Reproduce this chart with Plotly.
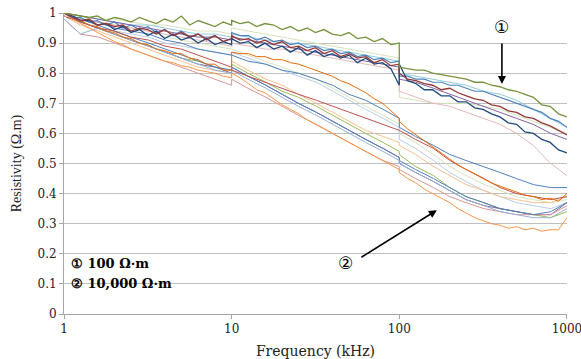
import plotly.graph_objects as go

# ---------------- frequency grids (kHz) ----------------
FREQ_FINE = [1, 1.12, 1.26, 1.41, 1.58, 1.78, 2, 2.24, 2.51, 2.82, 3.16, 3.55, 3.98, 4.47, 5.01, 5.62, 6.31, 7.08, 7.94, 8.91, 9.99,
             10, 11.2, 12.6, 14.1, 15.8, 17.8, 20, 22.4, 25.1, 28.2, 31.6, 35.5, 39.8, 44.7, 50.1, 56.2, 63.1, 70.8, 79.4, 89.1, 99.9,
             100, 112, 126, 141, 158, 178, 200, 224, 251, 282, 316, 355, 398, 447, 501, 562, 631, 708, 794, 891, 1000]
FREQ_COARSE = [1, 1.25, 1.6, 2, 2.5, 3.2, 4, 5, 6.3, 8, 9.99,
               10, 12.5, 16, 20, 25, 32, 40, 50, 63, 80, 99.9,
               100, 125, 160, 200, 250, 320, 400, 500, 630, 800, 1000]

# ---------------- 10,000 ohm-m group (coarse) ----------------
g2_red = [0.99, 0.97, 0.95, 0.94, 0.92, 0.91, 0.89, 0.88, 0.86, 0.84, 0.82,
          0.81, 0.79, 0.77, 0.75, 0.73, 0.71, 0.69, 0.67, 0.65, 0.63, 0.61,
          0.61, 0.58, 0.55, 0.51, 0.48, 0.45, 0.42, 0.40, 0.39, 0.38, 0.39]
g2_blue = [1.00, 0.98, 0.97, 0.95, 0.94, 0.93, 0.91, 0.90, 0.88, 0.87, 0.86,
           0.86, 0.84, 0.83, 0.81, 0.80, 0.78, 0.76, 0.73, 0.71, 0.68, 0.65,
           0.62, 0.59, 0.56, 0.53, 0.51, 0.49, 0.47, 0.45, 0.43, 0.42, 0.42]
g2_lightblue = [0.98, 0.93, 0.95, 0.93, 0.91, 0.89, 0.87, 0.85, 0.83, 0.81, 0.80,
                0.81, 0.78, 0.75, 0.72, 0.69, 0.66, 0.63, 0.60, 0.57, 0.54, 0.51,
                0.50, 0.47, 0.44, 0.41, 0.38, 0.36, 0.34, 0.33, 0.32, 0.32, 0.35]
g2_steel = [1.00, 0.98, 0.96, 0.94, 0.92, 0.90, 0.88, 0.86, 0.84, 0.82, 0.81,
            0.82, 0.79, 0.76, 0.73, 0.70, 0.67, 0.64, 0.61, 0.58, 0.55, 0.52,
            0.51, 0.48, 0.45, 0.42, 0.39, 0.37, 0.35, 0.34, 0.33, 0.34, 0.37]
g2_lightred = [0.98, 0.93, 0.92, 0.90, 0.88, 0.86, 0.84, 0.82, 0.80, 0.78, 0.76,
               0.78, 0.75, 0.72, 0.69, 0.66, 0.63, 0.60, 0.57, 0.54, 0.51, 0.49,
               0.48, 0.45, 0.42, 0.39, 0.37, 0.35, 0.34, 0.33, 0.33, 0.33, 0.36]
g2_purple = [0.99, 0.97, 0.95, 0.93, 0.91, 0.89, 0.87, 0.85, 0.83, 0.82, 0.80,
             0.82, 0.79, 0.76, 0.73, 0.70, 0.67, 0.64, 0.61, 0.58, 0.55, 0.52,
             0.50, 0.47, 0.44, 0.41, 0.38, 0.36, 0.35, 0.34, 0.33, 0.33, 0.37]
g2_green = [0.99, 0.97, 0.95, 0.93, 0.91, 0.89, 0.87, 0.85, 0.84, 0.82, 0.81,
            0.83, 0.80, 0.77, 0.74, 0.72, 0.69, 0.66, 0.63, 0.60, 0.57, 0.54,
            0.53, 0.49, 0.46, 0.42, 0.39, 0.37, 0.35, 0.34, 0.33, 0.32, 0.34]
g2_peach = [0.99, 0.96, 0.94, 0.92, 0.90, 0.88, 0.86, 0.84, 0.82, 0.81, 0.80,
            0.84, 0.81, 0.78, 0.76, 0.73, 0.70, 0.67, 0.64, 0.61, 0.59, 0.57,
            0.56, 0.53, 0.49, 0.46, 0.43, 0.41, 0.39, 0.38, 0.37, 0.37, 0.39]
g2_paleblue = [1.00, 0.97, 0.95, 0.94, 0.93, 0.92, 0.90, 0.89, 0.88, 0.87, 0.86,
               0.87, 0.85, 0.83, 0.81, 0.79, 0.77, 0.74, 0.71, 0.68, 0.65, 0.62,
               0.58, 0.55, 0.51, 0.47, 0.44, 0.41, 0.39, 0.37, 0.36, 0.35, 0.37]
g2_palegreen = [1.00, 0.98, 0.97, 0.96, 0.95, 0.94, 0.92, 0.91, 0.90, 0.89, 0.88,
                0.88, 0.86, 0.84, 0.82, 0.80, 0.78, 0.75, 0.72, 0.69, 0.66, 0.63,
                0.60, 0.57, 0.53, 0.49, 0.46, 0.43, 0.41, 0.39, 0.38, 0.37, 0.38]

# ---------------- 10,000 ohm-m group (fine, noisy) ----------------
g2_orange_up = [1.00, 0.985, 0.975, 0.96, 0.955, 0.94, 0.935, 0.92, 0.915, 0.90, 0.895, 0.88, 0.875, 0.865, 0.865, 0.85, 0.845, 0.83, 0.83, 0.81, 0.81,
                0.87, 0.865, 0.865, 0.855, 0.855, 0.845, 0.845, 0.835, 0.83, 0.82, 0.81, 0.80, 0.79, 0.775, 0.765, 0.75, 0.735, 0.715, 0.70, 0.675, 0.65,
                0.64, 0.615, 0.595, 0.575, 0.555, 0.535, 0.515, 0.495, 0.48, 0.465, 0.45, 0.435, 0.425, 0.415, 0.405, 0.395, 0.39, 0.38, 0.385, 0.375, 0.40]
g2_orange_low = [1.00, 0.98, 0.965, 0.95, 0.935, 0.92, 0.905, 0.895, 0.88, 0.87, 0.86, 0.85, 0.84, 0.835, 0.825, 0.82, 0.81, 0.805, 0.80, 0.79, 0.785,
                 0.80, 0.785, 0.765, 0.745, 0.735, 0.715, 0.695, 0.68, 0.665, 0.645, 0.63, 0.615, 0.60, 0.585, 0.57, 0.555, 0.54, 0.525, 0.51, 0.495, 0.48,
                 0.47, 0.45, 0.435, 0.415, 0.40, 0.385, 0.37, 0.35, 0.335, 0.32, 0.31, 0.30, 0.295, 0.285, 0.29, 0.28, 0.285, 0.275, 0.28, 0.28, 0.32]

# ---------------- 100 ohm-m group (coarse) ----------------
g1_cyan = [1.00, 0.99, 0.98, 0.97, 0.96, 0.96, 0.95, 0.94, 0.93, 0.93, 0.92,
           0.93, 0.92, 0.91, 0.90, 0.90, 0.89, 0.88, 0.87, 0.86, 0.85, 0.84,
           0.80, 0.79, 0.78, 0.77, 0.76, 0.74, 0.73, 0.71, 0.68, 0.65, 0.62]
g1_pink = [0.99, 0.98, 0.97, 0.96, 0.95, 0.94, 0.93, 0.92, 0.91, 0.90, 0.89,
           0.90, 0.89, 0.88, 0.88, 0.87, 0.86, 0.85, 0.84, 0.83, 0.82, 0.81,
           0.74, 0.72, 0.70, 0.69, 0.67, 0.65, 0.63, 0.60, 0.56, 0.50, 0.46]
g1_palegreen = [1.00, 0.99, 0.98, 0.98, 0.97, 0.96, 0.96, 0.95, 0.94, 0.94, 0.93,
                0.95, 0.94, 0.93, 0.92, 0.91, 0.90, 0.89, 0.88, 0.87, 0.86, 0.85,
                0.72, 0.71, 0.70, 0.70, 0.70, 0.69, 0.68, 0.66, 0.64, 0.62, 0.60]
g1_purple = [1.00, 0.99, 0.98, 0.97, 0.96, 0.95, 0.94, 0.93, 0.92, 0.92, 0.91,
             0.92, 0.91, 0.90, 0.89, 0.88, 0.87, 0.86, 0.85, 0.84, 0.83, 0.82,
             0.78, 0.77, 0.75, 0.73, 0.71, 0.69, 0.67, 0.65, 0.63, 0.60, 0.58]

# ---------------- 100 ohm-m group (fine, noisy) ----------------
g1_blue = [1.00, 0.985, 0.985, 0.97, 0.975, 0.96, 0.97, 0.95, 0.96, 0.945, 0.955, 0.935, 0.945, 0.925, 0.94, 0.92, 0.93, 0.915, 0.925, 0.905, 0.915,
           0.935, 0.925, 0.925, 0.91, 0.92, 0.905, 0.91, 0.895, 0.90, 0.885, 0.89, 0.875, 0.88, 0.865, 0.87, 0.855, 0.86, 0.845, 0.85, 0.835, 0.84,
           0.79, 0.79, 0.78, 0.78, 0.77, 0.77, 0.76, 0.76, 0.75, 0.74, 0.74, 0.73, 0.72, 0.71, 0.70, 0.69, 0.68, 0.67, 0.65, 0.64, 0.62]
g1_navy = [1.00, 0.99, 0.975, 0.975, 0.96, 0.965, 0.945, 0.955, 0.935, 0.945, 0.925, 0.94, 0.915, 0.93, 0.91, 0.92, 0.90, 0.915, 0.895, 0.905, 0.895,
           0.915, 0.90, 0.905, 0.885, 0.90, 0.88, 0.89, 0.87, 0.885, 0.86, 0.875, 0.855, 0.865, 0.85, 0.86, 0.835, 0.85, 0.83, 0.835, 0.815, 0.76,
           0.83, 0.775, 0.765, 0.745, 0.745, 0.725, 0.725, 0.705, 0.705, 0.685, 0.68, 0.665, 0.655, 0.635, 0.63, 0.605, 0.60, 0.58, 0.57, 0.545, 0.535]
g1_darkred = [1.00, 0.985, 0.975, 0.98, 0.96, 0.965, 0.955, 0.96, 0.94, 0.95, 0.945, 0.93, 0.945, 0.925, 0.935, 0.92, 0.93, 0.91, 0.925, 0.905, 0.915,
              0.925, 0.91, 0.915, 0.90, 0.91, 0.895, 0.905, 0.885, 0.89, 0.875, 0.885, 0.865, 0.875, 0.855, 0.865, 0.85, 0.855, 0.835, 0.845, 0.825, 0.83,
              0.80, 0.78, 0.775, 0.765, 0.76, 0.745, 0.75, 0.735, 0.725, 0.715, 0.71, 0.695, 0.69, 0.675, 0.67, 0.655, 0.65, 0.635, 0.625, 0.61, 0.595]
g1_green = [1.00, 0.995, 0.99, 0.985, 0.99, 0.975, 0.985, 0.98, 0.97, 0.985, 0.975, 0.965, 0.98, 0.97, 0.99, 0.96, 0.975, 0.965, 0.955, 0.97, 0.96,
            0.975, 0.965, 0.97, 0.955, 0.965, 0.96, 0.945, 0.955, 0.94, 0.95, 0.935, 0.945, 0.93, 0.925, 0.935, 0.915, 0.92, 0.905, 0.915, 0.895, 0.90,
            0.82, 0.815, 0.81, 0.81, 0.80, 0.795, 0.79, 0.785, 0.78, 0.77, 0.77, 0.76, 0.755, 0.745, 0.74, 0.73, 0.72, 0.695, 0.69, 0.665, 0.655]

# (values, frequency grid, colour, width) drawing order: light first, dark last
SERIES = [
    (g2_palegreen, FREQ_COARSE, "#D7E4BD", 1.0),
    (g2_paleblue, FREQ_COARSE, "#B9CDE5", 1.0),
    (g2_peach, FREQ_COARSE, "#FAC090", 1.0),
    (g2_green, FREQ_COARSE, "#9BBB59", 1.0),
    (g2_purple, FREQ_COARSE, "#8064A2", 1.0),
    (g2_lightred, FREQ_COARSE, "#D99694", 1.0),
    (g2_steel, FREQ_COARSE, "#4F81BD", 1.0),
    (g2_lightblue, FREQ_COARSE, "#95B3D7", 1.0),
    (g2_blue, FREQ_COARSE, "#4F81BD", 1.0),
    (g2_red, FREQ_COARSE, "#C0504D", 1.0),
    (g2_orange_low, FREQ_FINE, "#F79646", 1.0),
    (g2_orange_up, FREQ_FINE, "#E46C0A", 1.0),
    (g1_palegreen, FREQ_COARSE, "#D7E4BD", 1.0),
    (g1_pink, FREQ_COARSE, "#E6B9B8", 1.0),
    (g1_cyan, FREQ_COARSE, "#92CDDC", 1.0),
    (g1_purple, FREQ_COARSE, "#8064A2", 1.0),
    (g1_blue, FREQ_FINE, "#4F81BD", 1.2),
    (g1_navy, FREQ_FINE, "#1F497D", 1.3),
    (g1_darkred, FREQ_FINE, "#953735", 1.3),
    (g1_green, FREQ_FINE, "#77933C", 1.3),
]

X_TICKS = [1, 10, 100, 1000]
X_TICK_TEXT = ["1", "10", "100", "1000"]
Y_TICKS = [0, 0.1, 0.2, 0.3, 0.4, 0.5, 0.6, 0.7, 0.8, 0.9, 1]
Y_TICK_TEXT = ["0", "0.1", "0.2", "0.3", "0.4", "0.5", "0.6", "0.7", "0.8", "0.9", "1"]

fig = go.Figure()
for vals, freqs, color, w in SERIES:
    fig.add_trace(go.Scatter(x=freqs, y=vals, mode="lines",
                             line=dict(color=color, width=w),
                             showlegend=False, hoverinfo="skip"))

font_family = "DejaVu Serif"
ann_font = dict(family=font_family, size=13, color="#000000")

fig.update_layout(
    width=581, height=359,
    margin=dict(l=64, r=14, t=13, b=45),
    paper_bgcolor="white", plot_bgcolor="white",
    font=dict(family=font_family, size=12, color="#222222"),
    xaxis=dict(type="log", range=[-0.0003, 3.0003], tickvals=X_TICKS, ticktext=X_TICK_TEXT,
               automargin=False, ticklabeloverflow="allow",
               showgrid=False, zeroline=False, showline=True, linecolor="#A6A6A6",
               linewidth=1, ticks="outside", ticklen=4, tickcolor="#A6A6A6",
               tickfont=dict(family=font_family, size=12, color="#222222"),
               title=dict(text="Frequency (kHz)", standoff=12,
                          font=dict(family=font_family, size=14, color="#222222"))),
    yaxis=dict(range=[0, 1], tickvals=Y_TICKS, ticktext=Y_TICK_TEXT,
               automargin=False,
               showgrid=True, gridcolor="#BFBFBF", gridwidth=1, zeroline=False,
               showline=True, linecolor="#A6A6A6", linewidth=1,
               ticks="outside", ticklen=4, tickcolor="#A6A6A6",
               tickfont=dict(family=font_family, size=12, color="#222222"),
               title=dict(text="Resistivity (Ω.m)", standoff=12,
                          font=dict(family="Liberation Serif", size=14, color="#222222"))),
)

# arrows
fig.add_annotation(x=2.612, y=0.764, xref="x", yref="y", text="", showarrow=True,
                   ax=0, ay=-42, arrowhead=2, arrowsize=1, arrowwidth=1.6, arrowcolor="#000000")
fig.add_annotation(x=2.224, y=0.345, xref="x", yref="y", text="", showarrow=True,
                   ax=-77, ay=48, arrowhead=2, arrowsize=1, arrowwidth=1.6, arrowcolor="#000000")
# circled numbers near arrows
fig.add_annotation(x=2.612, y=0.955, xref="x", yref="y", text="①", showarrow=False,
                   font=dict(family="DejaVu Sans", size=17, color="#000000"))
fig.add_annotation(x=1.676, y=0.169, xref="x", yref="y", text="②", showarrow=False,
                   font=dict(family="DejaVu Sans", size=17, color="#000000"))
# legend text
fig.add_annotation(x=0.03, y=0.169, xref="x", yref="y", xanchor="left", showarrow=False,
                   text="<b>① 100 Ω·m</b>", font=ann_font)
fig.add_annotation(x=0.03, y=0.101, xref="x", yref="y", xanchor="left", showarrow=False,
                   text="<b>② 10,000 Ω·m</b>", font=ann_font)

fig.write_html("out.html")
